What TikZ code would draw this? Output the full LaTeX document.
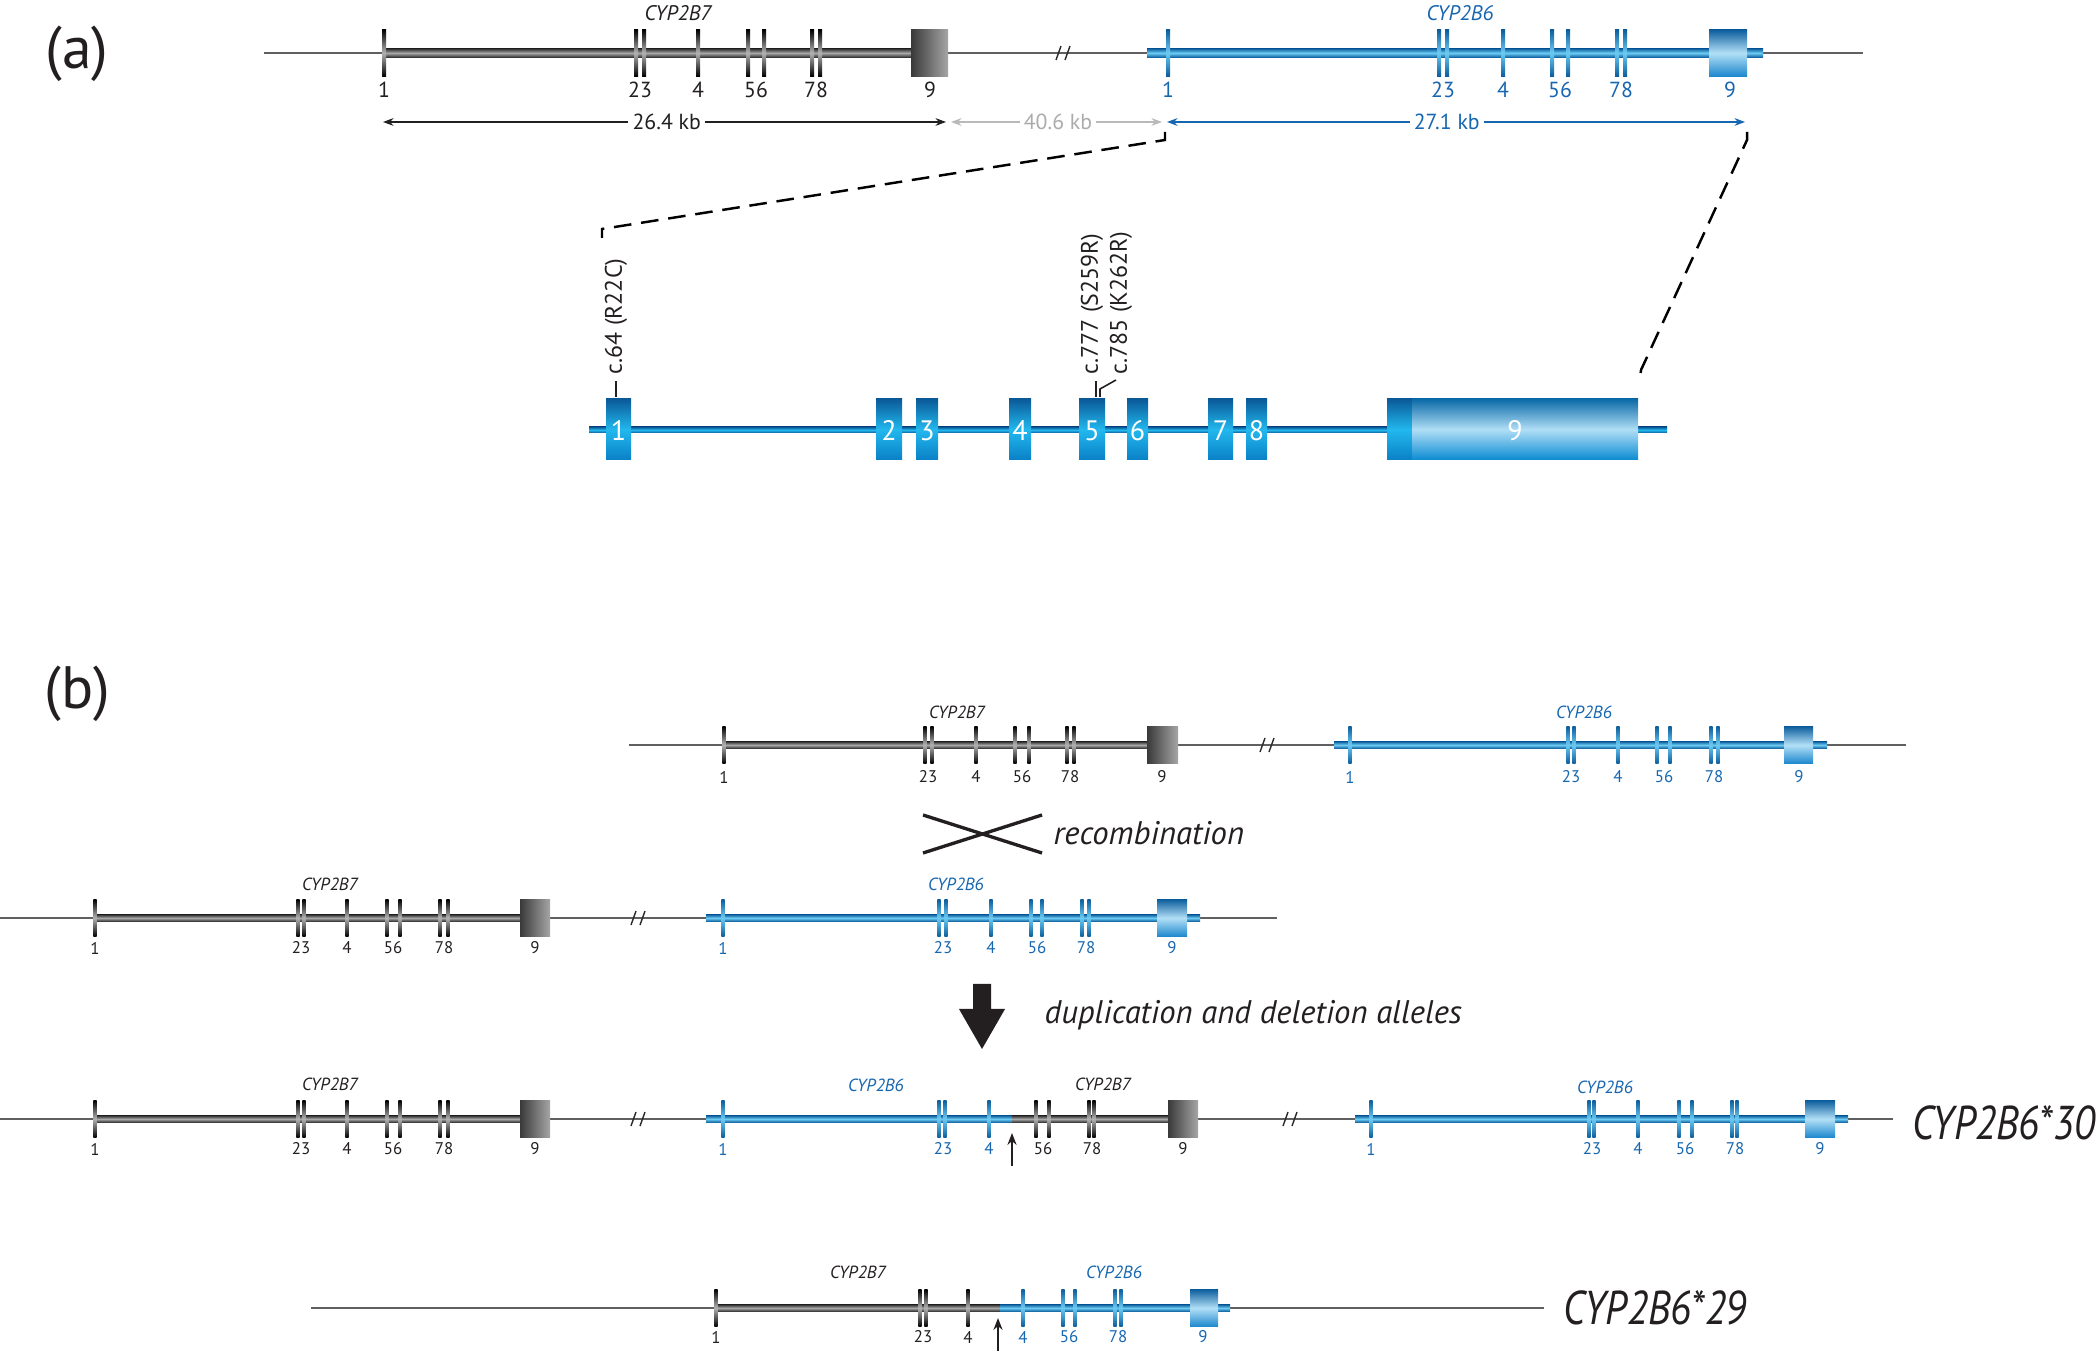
\documentclass[tikz,border=0pt]{standalone}
\usepackage{fontspec}
\setmainfont{PT Sans}
\newfontfamily\condfont[FakeStretch=0.85]{PT Sans}
\usetikzlibrary{arrows.meta}
\definecolor{bdark}{HTML}{0B5C9C}
\definecolor{bmid}{HTML}{1A86CC}
\definecolor{blight}{HTML}{6CCBF2}
\definecolor{bboxl}{HTML}{B3E0F7}
\definecolor{btext}{HTML}{1666B0}
\definecolor{gdark}{HTML}{2A2A2A}
\definecolor{glight}{HTML}{A8A8A8}
\definecolor{ink}{HTML}{231F20}
\definecolor{zt}{HTML}{0A5A98}
\definecolor{zm}{HTML}{22B8EE}
\definecolor{zb}{HTML}{0A80C6}
\definecolor{ut}{HTML}{0B6AA8}
\definecolor{um}{HTML}{B0DEF6}
\definecolor{ub}{HTML}{0A8BD2}
\newcommand\gtick[4]{\shade[#4] ({#1-2*#3},{#2-23.5*#3}) rectangle ({#1+2*#3},{#2+23.5*#3});}
\newcommand\gbody[5]{\shade[#5] (#1,{#3-4.5*#4}) rectangle (#2,{#3+4.5*#4});}
\newcommand\gbox[5]{\shade[#5] (#1,{#3-23.5*#4}) rectangle (#2,{#3+23.5*#4});}
\newcommand\brk[2]{\draw[brkst] ({#1-7},{#2+7}) -- ({#1-2},{#2-7}) ({#1+2},{#2+7}) -- ({#1+7},{#2-7});}
\begin{document}
\begin{tikzpicture}[x=0.1mm,y=-0.1mm,
  thinl/.style={draw=gray!75!black, line width=0.6pt},
  brkst/.style={draw=gdark, line width=0.4pt},
  b7body/.style={top color=gdark, bottom color=gdark, middle color=glight},
  b6body/.style={top color=bdark, bottom color=bdark, middle color=blight},
  b7tick/.style={top color=black, bottom color=black, middle color=gray!60},
  b6tick/.style={top color=bdark, bottom color=bdark, middle color=blight},
  b7box/.style={left color=gray!45!black, right color=gray!70},
  b6box/.style={top color=bdark, bottom color=bmid, middle color=bboxl},
  numA/.style={inner sep=0pt, font=\fontsize{6.2}{7}\selectfont},
  numB/.style={inner sep=0pt, font=\fontsize{4.8}{6}\selectfont},
  geneA/.style={inner sep=0pt, font=\fontsize{6}{7}\selectfont\itshape},
  geneB/.style={inner sep=0pt, font=\fontsize{5}{6}\selectfont\itshape},
  dimarrow/.style={{Stealth[length=3pt,width=2.2pt]}-{Stealth[length=3pt,width=2.2pt]}, line width=0.3pt},
  dimlab/.style={fill=white, inner sep=1.2pt, font=\fontsize{6.2}{7}\selectfont},
  dashln/.style={draw=black, line width=0.7pt, dash pattern=on 5pt off 2.8pt},
  zline/.style={top color=zt, bottom color=zt, middle color=zm},
  zexon/.style={top color=zt, bottom color=zb, middle color=zm},
  zutr/.style={top color=ut, bottom color=ub, middle color=um},
  znum/.style={inner sep=0pt, text=white, font=\fontsize{8}{9}\selectfont},
  mut/.style={inner sep=0pt, text=ink, font=\fontsize{6.8}{8}\selectfont},
  mutl/.style={draw=ink, line width=0.45pt},
  big/.style={inner sep=0pt, text=ink, font=\fontsize{17}{20}\selectfont},
  itl/.style={inner sep=0pt, text=ink, font=\fontsize{9.3}{11}\selectfont\itshape},
  allele/.style={inner sep=0pt, text=ink, font=\condfont\fontsize{13.5}{15}\selectfont\itshape},
  uparr/.style={-{Stealth[length=3.4pt,width=2.6pt]}, draw=ink, line width=0.4pt}]
\useasboundingbox (0,0) rectangle (2100,1351);

% ================= (a) =================
\node[big] (la) at (77,54) {(a)};
\draw[thinl] (264,53) -- (1863,53);
\gbody{384}{911}{53}{1}{b7body}
\foreach \p in {384,636,644,698,748,764,812,820} \gtick{\p}{53}{1}{b7tick};
\gbox{911}{948}{53}{1}{b7box}
\gbody{1147}{1763}{53}{1}{b6body}
\foreach \p in {1168,1439,1447,1503,1552,1568,1617,1625} \gtick{\p}{53}{1}{b6tick};
\gbox{1709}{1747}{53}{1}{b6box}
\brk{1063}{53}
\foreach \p/\t [count=\i] in {384/1,640/23,698/4,756/56,816/78,930/9}
  \node[numA,text=ink] (a7n\i) at (\p,90) {\t};
\foreach \p/\t [count=\i] in {1168/1,1443/23,1503/4,1560/56,1621/78,1730/9}
  \node[numA,text=btext] (a6n\i) at (\p,90) {\t};
\node[geneA,text=ink] (a7g) at (678,13) {CYP2B7};
\node[geneA,text=btext] (a6g) at (1460,13) {CYP2B6};

\coordinate (d0) at (383,122); \coordinate (d1) at (946,122);
\coordinate (d2) at (951,122); \coordinate (d3) at (1162,122);
\coordinate (d4) at (1167,122); \coordinate (d5) at (1745,122);
\draw[dimarrow, draw=gray!25!black] (d0) -- node[dimlab, text=gray!25!black, pos=0.504] (k1) {26.4 kb} (d1);
\draw[dimarrow, draw=gray!55] (d2) -- node[dimlab, text=gray!65, pos=0.507] (k2) {40.6 kb} (d3);
\draw[dimarrow, draw=btext] (d4) -- node[dimlab, text=btext, pos=0.484] (k3) {27.1 kb} (d5);

\coordinate (L0) at (1165,132); \coordinate (L1) at (1165,140);
\coordinate (L2) at (602,229);  \coordinate (L3) at (602,238);
\coordinate (R0) at (1747,132); \coordinate (R1) at (1747,140);
\coordinate (R2) at (1641,370); \coordinate (R3) at (1640,378);
\draw[dashln] (L0) -- (L1) -- (L2) -- (L3);
\draw[dashln] (R0) -- (R1) -- (R2) -- (R3);

% zoomed CYP2B6
\shade[zline] (589,427) rectangle (1667,433);
\foreach \a/\b/\t [count=\i] in {606/631/1,876/902/2,916/938/3,1009/1031/4,1079/1105/5,1127/1148/6,1208/1233/7,1246/1267/8}{
  \shade[zexon] (\a,399) rectangle (\b,460);
  \node[znum] (zn\i) at ({(\a+\b)/2},431) {\t};
}
\shade[zexon] (1387,399) rectangle (1412,460);
\shade[zutr] (1412,399) rectangle (1638,460);
\node[znum] (zn9) at (1515,431) {9};

\node[mut, rotate=90, anchor=west] (m1) at (616,375) {c.64 (R22C)};
\node[mut, rotate=90, anchor=west] (m2) at (1092,375) {c.777 (S259R)};
\node[mut, rotate=90, anchor=west] (m3) at (1121,375) {c.785 (K262R)};
\draw[mutl] (616,397) -- (616,381);
\draw[mutl] (1096,397) -- (1096,381);
\draw[mutl] (1100,397) -- (1100,389) -- (1116,380);

% ================= (b) =================
\node[big] (lb) at (77,694) {(b)};

% row b1
\draw[thinl] (629,745) -- (1906,745);
\gbody{724}{1147}{745}{0.8}{b7body}
\foreach \p in {724,925,932,976,1015,1029,1067,1074} \gtick{\p}{745}{0.8}{b7tick};
\gbox{1147}{1178}{745}{0.8}{b7box}
\brk{1267}{745}
\gbody{1334}{1827}{745}{0.8}{b6body}
\foreach \p in {1350,1568,1574,1618,1657,1670,1711,1718} \gtick{\p}{745}{0.8}{b6tick};
\gbox{1784}{1813}{745}{0.8}{b6box}
\foreach \p/\t [count=\i] in {724/1,928/23,976/4,1022/56,1070/78,1162/9}
  \node[numB,text=ink] (b1a\i) at (\p,777) {\t};
\foreach \p/\t [count=\i] in {1350/1,1571/23,1618/4,1664/56,1714/78,1799/9}
  \node[numB,text=btext] (b1b\i) at (\p,777) {\t};
\node[geneB,text=ink] (b1g7) at (957,712) {CYP2B7};
\node[geneB,text=btext] (b1g6) at (1584,712) {CYP2B6};

% recombination
\draw[ink, line width=0.95pt] (923,815) -- (1042,853) (923,853) -- (1042,815);
\node[itl, anchor=west] (rec) at (1053,833) {recombination};

% row b2
\draw[thinl] (0,918) -- (1277,918);
\gbody{95}{520}{918}{0.8}{b7body}
\foreach \p in {95,298,304,347,387,400,440,448} \gtick{\p}{918}{0.8}{b7tick};
\gbox{520}{550}{918}{0.8}{b7box}
\brk{638}{918}
\gbody{706}{1200}{918}{0.8}{b6body}
\foreach \p in {723,939,946,991,1031,1042,1082,1089} \gtick{\p}{918}{0.8}{b6tick};
\gbox{1157}{1187}{918}{0.8}{b6box}
\foreach \p/\t [count=\i] in {95/1,301/23,347/4,393/56,444/78,535/9}
  \node[numB,text=ink] (b2a\i) at (\p,948) {\t};
\foreach \p/\t [count=\i] in {723/1,943/23,991/4,1037/56,1086/78,1172/9}
  \node[numB,text=btext] (b2b\i) at (\p,948) {\t};
\node[geneB,text=ink] (b2g7) at (330,884) {CYP2B7};
\node[geneB,text=btext] (b2g6) at (956,884) {CYP2B6};

% big arrow
\fill[ink] (973,984) -- (991,984) -- (991,1009) -- (1005,1009) -- (982,1049) -- (959,1009) -- (973,1009) -- cycle;
\node[itl, anchor=west] (dup) at (1044,1015) {duplication and deletion alleles};

% row b3
\draw[thinl] (0,1119) -- (1893,1119);
\gbody{95}{520}{1119}{0.8}{b7body}
\foreach \p in {95,298,304,347,387,400,440,448} \gtick{\p}{1119}{0.8}{b7tick};
\gbox{520}{550}{1119}{0.8}{b7box}
\brk{638}{1119}
\gbody{706}{1012}{1119}{0.8}{b6body}
\gbody{1012}{1168}{1119}{0.8}{b7body}
\foreach \p in {723,939,945,989} \gtick{\p}{1119}{0.8}{b6tick};
\foreach \p in {1036,1049,1089,1094} \gtick{\p}{1119}{0.8}{b7tick};
\gbox{1168}{1198}{1119}{0.8}{b7box}
\brk{1290}{1119}
\gbody{1355}{1848}{1119}{0.8}{b6body}
\foreach \p in {1371,1589,1594,1638,1679,1692,1732,1737} \gtick{\p}{1119}{0.8}{b6tick};
\gbox{1805}{1835}{1119}{0.8}{b6box}
\foreach \p/\t [count=\i] in {95/1,301/23,347/4,393/56,444/78,535/9,1043/56,1092/78,1183/9}
  \node[numB,text=ink] (b3a\i) at (\p,1149) {\t};
\foreach \p/\t [count=\i] in {723/1,943/23,989/4,1371/1,1592/23,1638/4,1685/56,1735/78,1820/9}
  \node[numB,text=btext] (b3b\i) at (\p,1149) {\t};
\node[geneB,text=ink] (b3g7) at (330,1084) {CYP2B7};
\node[geneB,text=btext] (b3g6) at (876,1085) {CYP2B6};
\node[geneB,text=ink] (b3g7b) at (1103,1084) {CYP2B7};
\node[geneB,text=btext] (b3g6b) at (1605,1087) {CYP2B6};
\coordinate (ar1s) at (1012,1166); \coordinate (ar1t) at (1012,1133);
\draw[uparr] (ar1s) -- (ar1t);
\node[allele, anchor=east] (a30) at (2096,1123) {CYP2B6*30};

% row b4
\draw[thinl] (311,1308) -- (1544,1308);
\gbody{716}{1000}{1308}{0.8}{b7body}
\gbody{1000}{1230}{1308}{0.8}{b6body}
\foreach \p in {716,920,926,968} \gtick{\p}{1308}{0.8}{b7tick};
\foreach \p in {1023,1063,1075,1115,1121} \gtick{\p}{1308}{0.8}{b6tick};
\gbox{1190}{1218}{1308}{0.8}{b6box}
\foreach \p/\t [count=\i] in {716/1,923/23,968/4}
  \node[numB,text=ink] (b4a\i) at (\p,1337) {\t};
\foreach \p/\t [count=\i] in {1023/4,1069/56,1118/78,1203/9}
  \node[numB,text=btext] (b4b\i) at (\p,1337) {\t};
\node[geneB,text=ink] (b4g7) at (858,1272) {CYP2B7};
\node[geneB,text=btext] (b4g6) at (1114,1272) {CYP2B6};
\coordinate (ar2s) at (998,1351); \coordinate (ar2t) at (998,1318);
\draw[uparr] (ar2s) -- (ar2t);
\node[allele, anchor=west] (a29) at (1563,1308) {CYP2B6*29};
\end{tikzpicture}
\end{document}
